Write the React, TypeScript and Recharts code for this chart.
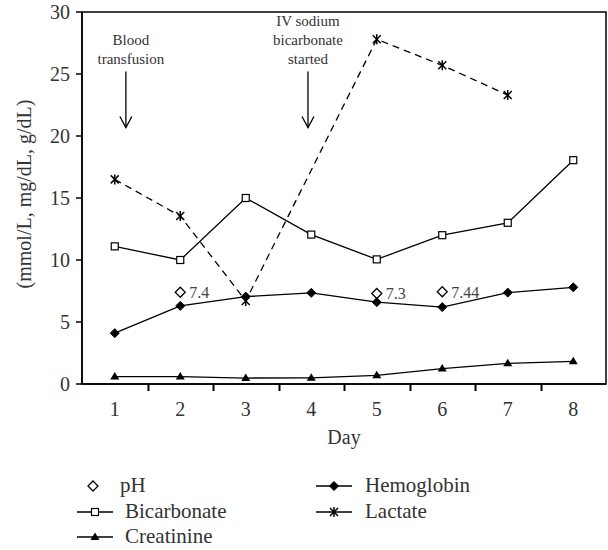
import { LineChart, Line, XAxis, YAxis, ReferenceArea, ReferenceDot, LabelList } from 'recharts';

const days = [1, 2, 3, 4, 5, 6, 7, 8];
const ph = [null, 7.4, null, null, 7.3, 7.44, null, null];
const bicarbonate = [11.1, 10, 15, 12.05, 10.05, 12, 13, 18.05];
const creatinine = [0.6, 0.6, 0.48, 0.5, 0.7, 1.24, 1.67, 1.83];
const hemoglobin = [4.1, 6.3, 7.05, 7.35, 6.6, 6.2, 7.37, 7.8];
const lactate = [16.5, 13.55, 6.7, null, 27.8, 25.7, 23.3, null];

const yTicks = [0, 5, 10, 15, 20, 25, 30];

const annotations = [
  { x: 1.17, y: 25.2, lines: ['Blood', 'transfusion'] },
  { x: 3.95, y: 25.2, lines: ['IV sodium', 'bicarbonate', 'started'] },
];

const data = days.map((d, i) => ({
  day: d,
  ph: ph[i],
  bicarbonate: bicarbonate[i],
  creatinine: creatinine[i],
  hemoglobin: hemoglobin[i],
  lactate: lactate[i],
}));

const W = 608;
const H = 550;
const MARGIN = { top: 12, right: 2, bottom: 106, left: 0 };
const Y_AXIS_W = 82;
const BAND = (W - MARGIN.left - MARGIN.right - Y_AXIS_W) / days.length;

const FONT = '"Liberation Serif", "DejaVu Serif", serif';
const TEXT = '#333';

// marker shapes
const Square = ({ cx, cy }: any) => (
  <rect x={cx - 3.5} y={cy - 3.5} width={7} height={7} fill="#fff" stroke="#000" strokeWidth={1.2} />
);
const Diamond = ({ cx, cy, open }: any) => {
  const r = open ? 5 : 4.5;
  return (
    <polygon
      points={`${cx},${cy - r} ${cx + r},${cy} ${cx},${cy + r} ${cx - r},${cy}`}
      fill={open ? '#fff' : '#000'}
      stroke="#000"
      strokeWidth={open ? 1.3 : 1}
    />
  );
};
const Triangle = ({ cx, cy }: any) => (
  <polygon points={`${cx},${cy - 4.5} ${cx + 4.5},${cy + 3} ${cx - 4.5},${cy + 3}`} fill="#000" />
);
const Star = ({ cx, cy }: any) => (
  <g stroke="#000" strokeWidth={1.5}>
    <line x1={cx - 4} y1={cy - 4} x2={cx + 4} y2={cy + 4} />
    <line x1={cx - 4} y1={cy + 4} x2={cx + 4} y2={cy - 4} />
    <line x1={cx} y1={cy - 5} x2={cx} y2={cy + 5} />
  </g>
);

const dotOf = (Shape: any, extra: any = {}) => (props: any) => {
  const { cx, cy, index, value } = props;
  if (cx == null || cy == null || value == null) return <g key={`e-${index}`} />;
  return (
    <g key={`d-${index}`}>
      <Shape cx={cx} cy={cy} {...extra} />
    </g>
  );
};

// day label, plus the tick mark on the boundary to its right
const XTick = ({ x, y, payload }: any) => {
  const tx = Math.round(x + BAND / 2) + 0.5;
  const ty = Math.round(Number(y));
  return (
    <g>
      <text x={x} y={ty + 32} textAnchor="middle" fontSize={20} fontFamily={FONT} fill={TEXT}>
        {payload.value}
      </text>
      {payload.value < days[days.length - 1] && (
        <rect x={tx - 1} y={ty} width={2} height={7} fill="#000" stroke="none" />
      )}
    </g>
  );
};

const Annotation = ({ cx, cy, lines }: any) => (
  <g>
    {lines.map((t: string, i: number) => (
      <text
        key={t}
        x={cx + (lines.length === 2 ? 5 : 0)}
        y={cy - 8 - (lines.length - 1 - i) * 19}
        textAnchor="middle"
        fontSize={15}
        fontFamily={FONT}
        fill={TEXT}
      >
        {t}
      </text>
    ))}
    <g stroke="#000" strokeWidth={1.3} fill="none">
      <line x1={cx} y1={cy} x2={cx} y2={cy + 56} />
      <polyline points={`${cx - 6},${cy + 45} ${cx},${cy + 56} ${cx + 6},${cy + 45}`} />
    </g>
  </g>
);

const PhLabel = ({ x, y, value }: any) => {
  if (value == null) return null;
  return (
    <text x={x + 9} y={y + 6} fontSize={16} fontFamily={FONT} fill="#444">
      {value}
    </text>
  );
};

const LegendIcon = ({ kind }: { kind: string }) => (
  <svg width={40} height={16} style={{ verticalAlign: 'middle' }}>
    {kind !== 'ph' && <line x1={2} x2={38} y1={8} y2={8} stroke="#000" strokeWidth={1.3} />}
    {kind === 'ph' && <Diamond cx={20} cy={8} open />}
    {kind === 'bicarbonate' && <Square cx={20} cy={8} />}
    {kind === 'creatinine' && <Triangle cx={20} cy={8} />}
    {kind === 'hemoglobin' && <Diamond cx={20} cy={8} />}
    {kind === 'lactate' && <Star cx={20} cy={8} />}
  </svg>
);

const legendItems = [
  { kind: 'ph', label: 'pH', left: 73, top: 486, textLeft: 120 },
  { kind: 'bicarbonate', label: 'Bicarbonate', left: 75, top: 512, textLeft: 125 },
  { kind: 'creatinine', label: 'Creatinine', left: 75, top: 537, textLeft: 125 },
  { kind: 'hemoglobin', label: 'Hemoglobin', left: 314, top: 486, textLeft: 365 },
  { kind: 'lactate', label: 'Lactate', left: 314, top: 512, textLeft: 365 },
];

export default function App() {
  return (
    <div style={{ position: 'absolute', left: 0, top: 0, width: W, height: H, background: '#fff' }}>
      <LineChart width={W} height={H} data={data} margin={MARGIN}>
        <XAxis
          dataKey="day"
          type="number"
          domain={[0.5, 8.5]}
          ticks={days}
          interval={0}
          tickLine={false}
          tickSize={0}
          tickMargin={0}
          tick={<XTick />}
          axisLine={{ stroke: '#000', strokeWidth: 1.5 }}
          height={60}
          label={{ value: 'Day', position: 'insideBottom', offset: 0, fontSize: 20, fontFamily: FONT, fill: TEXT }}
        />
        <YAxis
          type="number"
          domain={[0, 30]}
          ticks={yTicks}
          width={Y_AXIS_W}
          tickSize={6}
          tickMargin={6}
          tickLine={{ stroke: '#000', strokeWidth: 1.5 }}
          axisLine={{ stroke: '#000', strokeWidth: 1.5 }}
          tick={{ fontSize: 20, fontFamily: FONT, fill: TEXT }}
          label={{
            content: ({ viewBox }: any) => {
              const cx = viewBox.x + 24;
              const cy = viewBox.y + viewBox.height / 2 - 4;
              return (
                <text
                  x={cx}
                  y={cy}
                  transform={`rotate(-90 ${cx} ${cy})`}
                  textAnchor="middle"
                  dominantBaseline="central"
                  fontSize={20}
                  fontFamily={FONT}
                  fill={TEXT}
                >
                  (mmol/L, mg/dL, g/dL)
                </text>
              );
            },
          }}
        />
        <ReferenceArea x1={0.5} x2={8.5} y1={0} y2={30} fill="none" stroke="#000" strokeWidth={1.5} />
        {annotations.map((a, i) => (
          <ReferenceDot key={i} x={a.x} y={a.y} shape={(p: any) => <Annotation cx={p.cx} cy={p.cy} lines={a.lines} />} />
        ))}
        <Line dataKey="creatinine" stroke="#000" strokeWidth={1.3} dot={dotOf(Triangle)} activeDot={false} isAnimationActive={false} />
        <Line dataKey="hemoglobin" stroke="#000" strokeWidth={1.3} dot={dotOf(Diamond)} activeDot={false} isAnimationActive={false} />
        <Line dataKey="bicarbonate" stroke="#000" strokeWidth={1.3} dot={dotOf(Square)} activeDot={false} isAnimationActive={false} />
        <Line
          dataKey="lactate"
          stroke="#000"
          strokeWidth={1.3}
          strokeDasharray="7 5"
          connectNulls
          dot={dotOf(Star)}
          activeDot={false}
          isAnimationActive={false}
        />
        <Line dataKey="ph" stroke="none" dot={dotOf(Diamond, { open: true })} activeDot={false} isAnimationActive={false}>
          <LabelList dataKey="ph" content={<PhLabel />} />
        </Line>
      </LineChart>
      {legendItems.map((it) => (
        <div key={it.kind}>
          <div style={{ position: 'absolute', left: it.left, top: it.top - 8, height: 16, lineHeight: 0 }}>
            <LegendIcon kind={it.kind} />
          </div>
          <div
            style={{
              position: 'absolute',
              left: it.textLeft,
              top: it.top - 13,
              fontFamily: FONT,
              fontSize: 21,
              lineHeight: '24px',
              color: TEXT,
            }}
          >
            {it.label}
          </div>
        </div>
      ))}
    </div>
  );
}
